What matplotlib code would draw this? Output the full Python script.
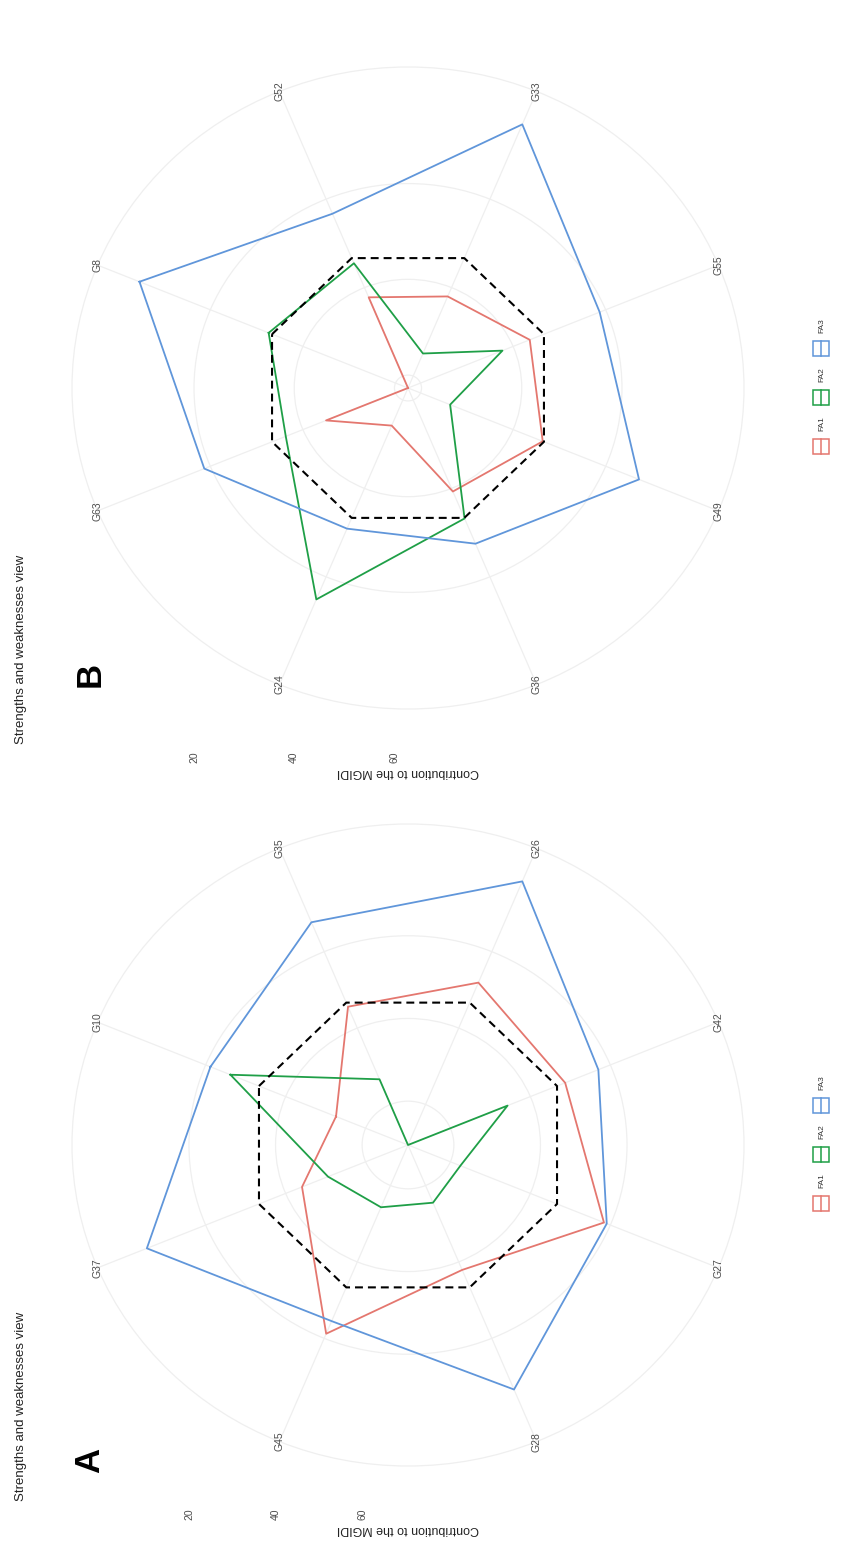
import numpy as np
import matplotlib
matplotlib.use("Agg")
import matplotlib.pyplot as plt
from matplotlib.patches import Rectangle
from matplotlib.lines import Line2D

plt.rcParams['font.family'] = ['Liberation Sans', 'DejaVu Sans']

# panel A (contribution of each factor, %)
genotypes_a = ['G10', 'G35', 'G26', 'G42', 'G27', 'G28', 'G45', 'G37']
fa1_a = [52.6, 34.4, 28.1, 31.3, 21.6, 37.9, 21.2, 44.1]
fa2_a = [26.2, 53.4, 70.6, 45.7, 57.5, 55.5, 54.3, 50.6]
fa3_a = [21.2, 12.3, 1.6, 23.0, 20.9, 6.6, 24.5, 5.3]

# panel B
genotypes_b = ['G8', 'G52', 'G33', 'G55', 'G49', 'G36', 'G24', 'G63']
fa1_b = [62.7, 42.2, 42.0, 36.4, 33.6, 39.3, 54.2, 45.0]
fa2_b = [32.6, 34.5, 54.9, 42.3, 53.6, 33.2, 14.9, 36.3]
fa3_b = [4.7, 23.3, 3.1, 21.3, 12.8, 27.5, 30.9, 18.7]

factors = ['FA1', 'FA2', 'FA3']
colors = ['#e4776f', '#1f9f47', '#6096da']
r_ticks = [20, 40, 60]
title = 'Strengths and weaknesses view'
r_title = 'Contribution to the MGIDI'

W, H = 849, 1564
fig = plt.figure(figsize=(W / 100, H / 100), dpi=100)
fig.patch.set_facecolor('white')


def fx(px):
    return px / W


def fy(py):
    # py is measured from the top of the picture
    return 1 - py / H


def radar(cy, genos, series, letter, letter_y):
    cx = 408
    rx, ry = 336, 321
    ax = fig.add_axes([fx(cx - rx), fy(cy + ry), 2 * rx / W, 2 * ry / H],
                      projection='polar')
    ax.set_aspect('auto')

    n = len(genos)
    theta = np.arange(n) * 2 * np.pi / n
    ref = 100 / len(series)

    allv = np.concatenate([np.array(s) for s in series] + [[ref]])
    lo, hi = allv.min(), allv.max()
    outer = lo - 0.125 * (hi - lo)

    ax.set_theta_offset(np.deg2rad(157.5))
    ax.set_theta_direction(-1)
    ax.set_ylim(hi, outer)
    ax.set_xticks(theta)
    ax.set_xticklabels([])
    ax.set_yticks(r_ticks)
    ax.set_yticklabels([])
    ax.grid(color='#efefef', lw=0.9)
    ax.spines['polar'].set_color('#efefef')
    ax.spines['polar'].set_linewidth(0.9)

    tc = np.append(theta, theta[0])
    for vals, c in zip(series, colors):
        ax.plot(tc, np.append(vals, vals[0]), color=c, lw=1.3)
    ax.plot(tc, [ref] * (n + 1), color='black', lw=1.5, ls=(0, (3.8, 2.4)))

    for t, g in zip(theta, genos):
        ax.text(t, outer, g, rotation=90, ha='center', va='center',
                fontsize=7.5, color='#4d4d4d')

    # radial axis labels sit below the panel
    left = np.deg2rad(157.5 - 180)
    for r in r_ticks:
        px = ax.transData.transform((left, r))[0]
        fig.text(px / W, fy(cy + 369), str(r), rotation=90, ha='center',
                 va='center', fontsize=7.5, color='#4d4d4d')
    fig.text(fx(cx), fy(cy + 384), r_title, rotation=180, ha='center',
             va='center', fontsize=9, color='#222222')

    fig.text(fx(21), fy(cy + 356), title, rotation=90, ha='center',
             va='bottom', fontsize=9.5, color='#222222')
    fig.text(fx(90), fy(letter_y), letter, rotation=90, ha='center',
             va='center', fontsize=25, fontweight='bold')

    # legend
    for k, (name, c) in enumerate(zip(factors, colors)):
        ky = cy + 58 - 49 * k
        fig.add_artist(Rectangle((fx(813), fy(ky + 7.5)), 16 / W, 15 / H,
                                 transform=fig.transFigure, fill=False,
                                 edgecolor=c, lw=1.1))
        fig.add_artist(Line2D([fx(821), fx(821)], [fy(ky - 7.5), fy(ky + 7.5)],
                              transform=fig.transFigure, color=c, lw=1.1))
        fig.text(fx(822), fy(ky - 22), name, rotation=90, ha='center',
                 va='center', fontsize=6, color='#333333')


radar(1145, genotypes_a, [fa1_a, fa2_a, fa3_a], 'A', 1460)
radar(388, genotypes_b, [fa1_b, fa2_b, fa3_b], 'B', 674)

fig.savefig('out.png', dpi=100)
